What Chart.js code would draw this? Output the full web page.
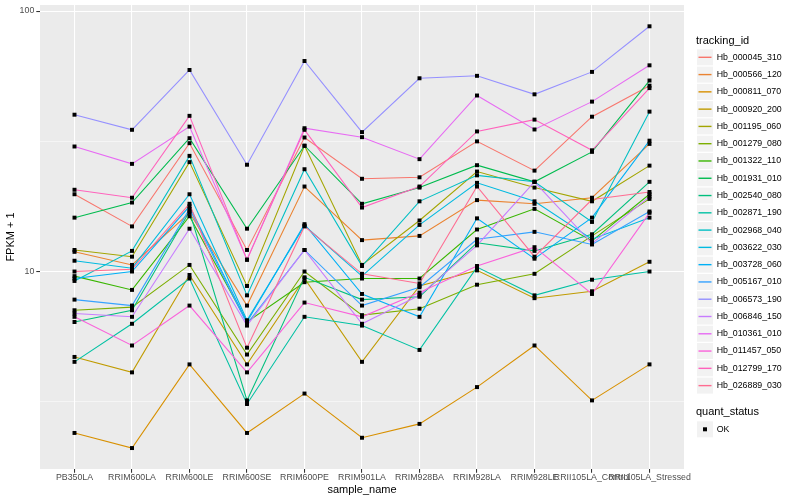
<!DOCTYPE html>
<html>
<head>
<meta charset="utf-8">
<script src="https://cdn.jsdelivr.net/npm/chart.js@4.4.1/dist/chart.umd.min.js"></script>
<style>
  html, body { margin: 0; padding: 0; background: #fff; }
</style>
</head>
<body>
<canvas id="chart" width="800" height="500"></canvas>
<script>
const sampleNames = ['PB350LA', 'RRIM600LA', 'RRIM600LE', 'RRIM600SE', 'RRIM600PE', 'RRIM901LA',
    'RRIM928BA', 'RRIM928LA', 'RRIM928LE', 'RRII105LA_Control', 'RRII105LA_Stressed'];
const yTickLabels = [10, 100];
const yMinorTicks = [3.162, 31.62];
const trackingIds = ['Hb_000045_310', 'Hb_000566_120', 'Hb_000811_070', 'Hb_000920_200', 'Hb_001195_060',
    'Hb_001279_080', 'Hb_001322_110', 'Hb_001931_010', 'Hb_002540_080', 'Hb_002871_190',
    'Hb_002968_040', 'Hb_003622_030', 'Hb_003728_060', 'Hb_005167_010', 'Hb_006573_190',
    'Hb_006846_150', 'Hb_010361_010', 'Hb_011457_050', 'Hb_012799_170', 'Hb_026889_030'];

// FPKM + 1 per sample
const hb_000045_310 = [19.8, 14.9, 31.1, 12.1, 32.7, 22.7, 23.0, 31.6, 24.4, 39.3, 51.7];
const hb_000566_120 = [11.9, 10.6, 16.8, 7.4, 21.2, 13.2, 13.7, 18.8, 18.2, 19.2, 30.9];
const hb_000811_070 = [2.4, 2.1, 4.4, 2.4, 3.4, 2.3, 2.6, 3.6, 5.2, 3.2, 4.4];
const hb_000920_200 = [4.7, 4.1, 9.7, 4.4, 9.4, 4.5, 8.8, 10.1, 7.9, 8.4, 10.9];
const hb_001195_060 = [12.1, 11.4, 26.3, 8.8, 30.4, 10.6, 15.7, 24.2, 21.0, 18.6, 25.5];
const hb_001279_080 = [7.1, 7.3, 10.6, 4.8, 10.0, 6.8, 7.2, 8.9, 9.8, 13.7, 19.0];
const hb_001322_110 = [9.6, 8.5, 16.3, 6.4, 9.1, 9.4, 9.4, 14.5, 17.4, 13.1, 19.8];
const hb_001931_010 = [16.1, 18.4, 32.5, 14.6, 30.4, 18.2, 21.0, 25.6, 22.1, 28.8, 54.1];
const hb_002540_080 = [6.4, 7.1, 17.0, 3.2, 9.5, 7.8, 8.0, 12.9, 12.0, 13.9, 22.1];
const hb_002871_190 = [4.5, 6.3, 9.4, 3.1, 6.7, 6.2, 5.0, 10.4, 8.1, 9.3, 10.0];
const hb_002968_040 = [9.2, 12.0, 27.8, 8.1, 24.7, 10.5, 18.6, 23.4, 22.1, 15.5, 41.1];
const hb_003622_030 = [11.0, 10.3, 19.8, 6.5, 15.0, 9.6, 15.1, 21.9, 18.6, 13.3, 16.1];
const hb_003728_060 = [9.4, 10.0, 17.8, 6.4, 15.2, 8.2, 6.7, 16.0, 11.2, 16.1, 31.8];
const hb_005167_010 = [7.8, 7.4, 17.4, 6.3, 12.1, 7.4, 8.7, 13.3, 14.2, 12.7, 17.0];
const hb_006573_190 = [40.0, 35.0, 59.4, 25.7, 64.3, 34.3, 55.2, 56.4, 47.9, 58.4, 87.4];
const hb_006846_150 = [6.9, 6.7, 14.6, 6.2, 12.1, 6.3, 8.1, 12.6, 22.1, 12.8, 19.4];
const hb_010361_010 = [30.2, 25.9, 36.0, 11.1, 35.5, 32.8, 27.0, 47.4, 35.1, 44.9, 61.9];
const hb_011457_050 = [6.7, 5.2, 7.4, 4.1, 7.6, 6.7, 8.3, 10.5, 12.4, 8.2, 16.8];
const hb_012799_170 = [20.6, 19.2, 39.6, 11.1, 35.0, 17.6, 21.2, 34.5, 38.3, 29.2, 50.6];
const hb_026889_030 = [10.0, 10.2, 18.2, 5.1, 14.9, 9.8, 9.0, 21.2, 11.4, 18.9, 20.2];

const seriesValues = [hb_000045_310, hb_000566_120, hb_000811_070, hb_000920_200, hb_001195_060,
    hb_001279_080, hb_001322_110, hb_001931_010, hb_002540_080, hb_002871_190,
    hb_002968_040, hb_003622_030, hb_003728_060, hb_005167_010, hb_006573_190,
    hb_006846_150, hb_010361_010, hb_011457_050, hb_012799_170, hb_026889_030];

// ggplot default hue palette, 20 levels
const seriesColors = ['#F8766D', '#EA8331', '#D89000', '#C09B00', '#A3A500', '#7CAE00', '#39B600',
    '#00BB4E', '#00BF7D', '#00C1A3', '#00BFC4', '#00BAE0', '#00B0F6', '#35A2FF', '#9590FF',
    '#C77CFF', '#E76BF3', '#FA62DB', '#FF62BC', '#FF6C91'];

const FONT = '"Liberation Sans", Arial, sans-serif';

const toPoints = values => values.map((v, i) => ({ x: i, y: v }));

const lineSets = seriesValues.map((values, i) => ({
    label: trackingIds[i],
    data: toPoints(values),
    showLine: true,
    borderColor: seriesColors[i],
    borderWidth: 1.07,
    pointRadius: 0,
    tension: 0,
    order: seriesValues.length - i
}));

const pointSet = {
    label: 'OK',
    data: seriesValues.flatMap(toPoints),
    showLine: false,
    pointStyle: 'rect',
    pointRadius: 2.8,
    pointBorderWidth: 0,
    pointBackgroundColor: '#000',
    order: 0
};

const panelPlugin = {
    id: 'panel',
    beforeDraw(chart) {
        const { ctx, chartArea: a } = chart;
        ctx.save();
        ctx.fillStyle = '#fff';
        ctx.fillRect(0, 0, chart.width, chart.height);
        ctx.fillStyle = '#EBEBEB';
        ctx.fillRect(a.left, a.top, a.right - a.left, a.bottom - a.top);
        ctx.restore();
    }
};

const legendPlugin = {
    id: 'ggLegend',
    afterDraw(chart) {
        const ctx = chart.ctx;
        const keyX = 697, pitch = 17.28, keyW = 16, top0 = 49.3;
        ctx.save();
        ctx.textAlign = 'left';
        ctx.textBaseline = 'middle';
        ctx.fillStyle = '#000';
        ctx.font = '11px ' + FONT;
        ctx.fillText('tracking_id', 696, 40.5);
        trackingIds.forEach((id, i) => {
            const y = top0 + i * pitch;
            ctx.fillStyle = '#F2F2F2';
            ctx.fillRect(keyX, y, keyW, keyW);
            ctx.strokeStyle = seriesColors[i];
            ctx.lineWidth = 1.4;
            ctx.beginPath();
            ctx.moveTo(keyX + 1.5, y + keyW / 2);
            ctx.lineTo(keyX + keyW - 1.5, y + keyW / 2);
            ctx.stroke();
            ctx.fillStyle = '#000';
            ctx.font = '8.8px ' + FONT;
            ctx.fillText(id, 716.7, y + keyW / 2);
        });
        ctx.font = '11px ' + FONT;
        ctx.fillText('quant_status', 696, 412.3);
        const okTop = 421.3;
        ctx.fillStyle = '#F2F2F2';
        ctx.fillRect(keyX, okTop, keyW, keyW);
        ctx.fillStyle = '#000';
        ctx.fillRect(keyX + keyW / 2 - 2, okTop + keyW / 2 - 2, 4, 4);
        ctx.font = '8.8px ' + FONT;
        ctx.fillText('OK', 716.7, okTop + keyW / 2);
        ctx.restore();
    }
};

new Chart(document.getElementById('chart'), {
    type: 'scatter',
    data: { datasets: [pointSet, ...lineSets] },
    options: {
        responsive: false,
        animation: false,
        layout: { padding: { top: 5, right: 116, bottom: 0, left: 0 } },
        plugins: { legend: { display: false }, tooltip: { enabled: false } },
        scales: {
            x: {
                type: 'linear',
                min: -0.6,
                max: sampleNames.length - 0.4,
                bounds: 'data',
                afterBuildTicks: s => { s.ticks = sampleNames.map((_, i) => ({ value: i })); },
                afterFit: s => { s.height = 31; s.paddingLeft = 0; s.paddingRight = 0; },
                ticks: {
                    autoSkip: false, maxRotation: 0, minRotation: 0, padding: 0,
                    color: '#4D4D4D', font: { size: 8.8, family: FONT },
                    callback: v => sampleNames[v]
                },
                grid: { color: '#fff', lineWidth: 1.07, tickLength: 3.7, tickColor: '#333', tickWidth: 1.07 },
                border: { display: false },
                title: {
                    display: true, text: 'sample_name', color: '#000',
                    font: { size: 11, family: FONT }, padding: { top: 0, bottom: 3 }
                }
            },
            y: {
                type: 'logarithmic',
                min: 1.745,
                max: 105.5,
                bounds: 'data',
                afterBuildTicks: s => {
                    s.ticks = [...yMinorTicks, ...yTickLabels].sort((a, b) => a - b).map(v => ({ value: v }));
                },
                afterFit: s => { s.width = 40; s.paddingTop = 0; s.paddingBottom = 0; },
                ticks: {
                    padding: 2, color: '#4D4D4D', font: { size: 8.8, family: FONT },
                    callback: v => yTickLabels.includes(v) ? String(v) : ''
                },
                grid: {
                    color: '#fff',
                    lineWidth: c => yTickLabels.includes(c.tick.value) ? 1.07 : 0.53,
                    tickLength: 3.7,
                    tickWidth: 1.07,
                    tickColor: c => yTickLabels.includes(c.tick.value) ? '#333' : 'rgba(0,0,0,0)'
                },
                border: { display: false },
                title: {
                    display: true, text: 'FPKM + 1', color: '#000',
                    font: { size: 11, family: FONT }, padding: { top: 4, bottom: 0 }
                }
            }
        }
    },
    plugins: [panelPlugin, legendPlugin]
});
</script>
</body>
</html>
